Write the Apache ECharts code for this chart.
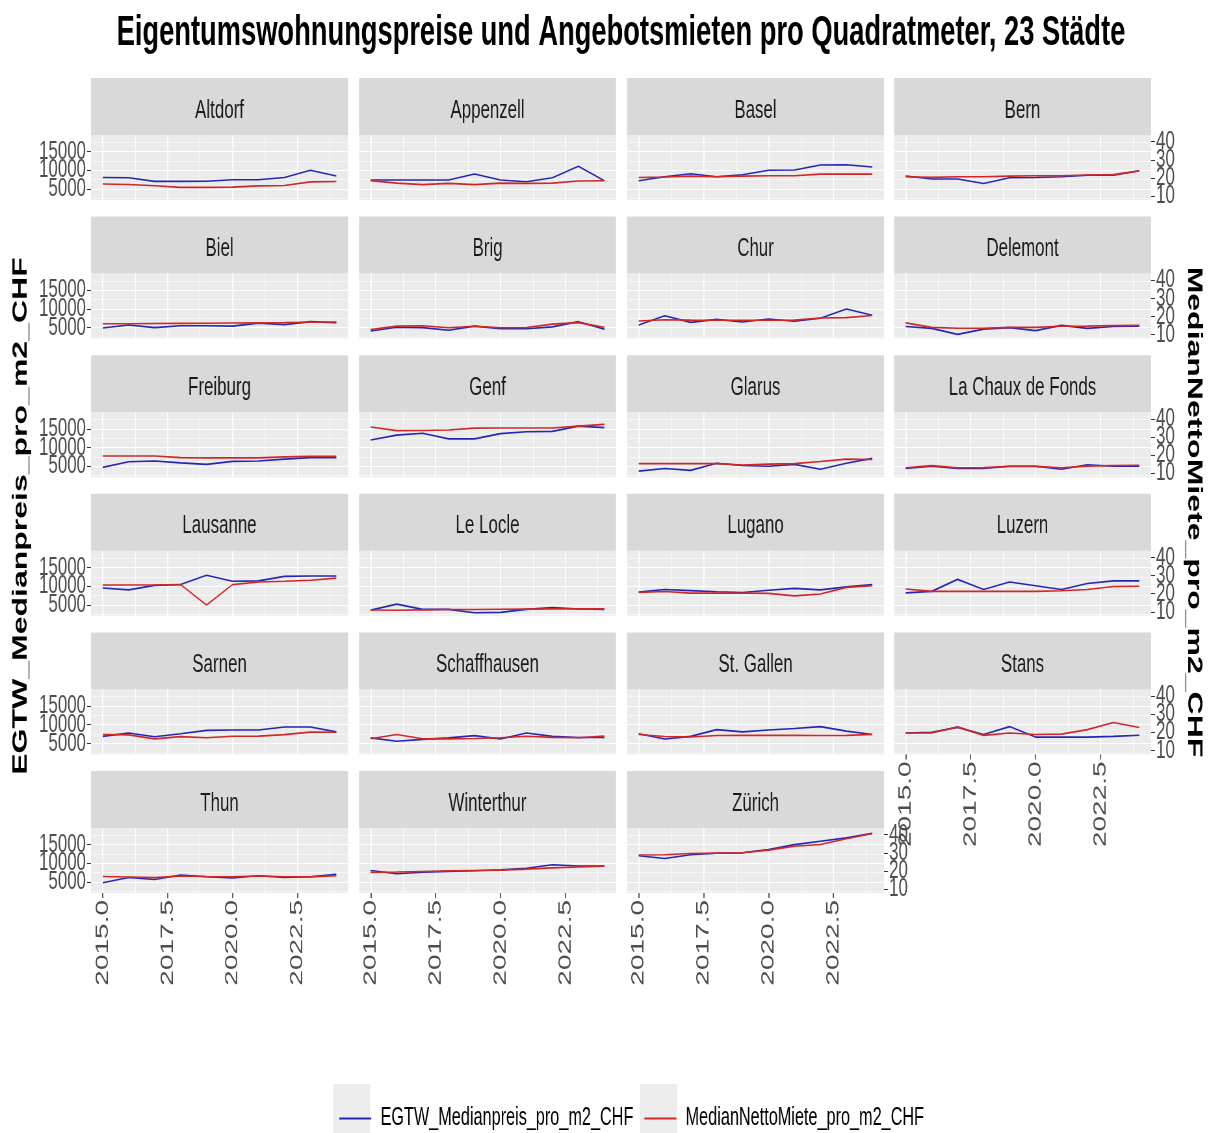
<!DOCTYPE html>
<html>
<head>
<meta charset="utf-8">
<title>Eigentumswohnungspreise und Angebotsmieten</title>
<script src="https://cdn.jsdelivr.net/npm/echarts@6.0.0/dist/echarts.min.js"></script>
<style>
  html, body { margin: 0; padding: 0; background: #fff; overflow: hidden; }
  /* the reference image is squeezed horizontally, so draw wide and squeeze */
  #main { width: 1868px; height: 1133px; transform: scaleX(0.65); transform-origin: 0 0; }
</style>
</head>
<body>
<div id="main"></div>
<script>
const SX = 0.65;
const px = x => x / SX;   // target pixel -> unsqueezed coordinate

const jahre = [2015, 2016, 2017, 2018, 2019, 2020, 2021, 2022, 2023, 2024];

const staedte = ['Altdorf', 'Appenzell', 'Basel', 'Bern', 'Biel', 'Brig', 'Chur', 'Delemont',
  'Freiburg', 'Genf', 'Glarus', 'La Chaux de Fonds', 'Lausanne', 'Le Locle', 'Lugano', 'Luzern',
  'Sarnen', 'Schaffhausen', 'St. Gallen', 'Stans', 'Thun', 'Winterthur', 'Zürich'];

// EGTW_Medianpreis_pro_m2_CHF, one row per city
const egtwPreis = [
  [8100, 8000, 7050, 7050, 7100, 7500, 7500, 8100, 10000, 8500],
  [7400, 7400, 7400, 7400, 9000, 7400, 6950, 8000, 11100, 7200],
  [7200, 8300, 9100, 8300, 8800, 10000, 10100, 11400, 11500, 10900],
  [8500, 7700, 7700, 6500, 8000, 8100, 8300, 8700, 8700, 9900],
  [4900, 5700, 5000, 5500, 5500, 5400, 6200, 5800, 6600, 6300],
  [4100, 5100, 5000, 4300, 5400, 4700, 4700, 5200, 6600, 4600],
  [5700, 8200, 6400, 7200, 6500, 7300, 6700, 7500, 10000, 8300],
  [5300, 4800, 3200, 4600, 5000, 4200, 5600, 4800, 5300, 5400],
  [4700, 6200, 6400, 5900, 5500, 6300, 6400, 6900, 7300, 7300],
  [12000, 13300, 13800, 12300, 12300, 13700, 14200, 14300, 15700, 15300],
  [3700, 4400, 3900, 5800, 5200, 5000, 5500, 4200, 5800, 7100],
  [4400, 5000, 4400, 4400, 5000, 5000, 4200, 5400, 5000, 5000],
  [9500, 9000, 10200, 10450, 12900, 11300, 11400, 12600, 12700, 12700],
  [3600, 5200, 3800, 3800, 2900, 3000, 3800, 4300, 3900, 3800],
  [8400, 9100, 8800, 8500, 8300, 8900, 9400, 9000, 9800, 10400],
  [8200, 8600, 11800, 9100, 11100, 10100, 9100, 10700, 11400, 11400],
  [6900, 7800, 6800, 7600, 8500, 8600, 8600, 9400, 9400, 8100],
  [6500, 5600, 6100, 6500, 7100, 6200, 7800, 6900, 6600, 6600],
  [7600, 6200, 6900, 8700, 8100, 8600, 9000, 9500, 8300, 7400],
  [7800, 8000, 9300, 7400, 9500, 6700, 6700, 6700, 6900, 7200],
  [4800, 6200, 5700, 6900, 6400, 6100, 6700, 6200, 6400, 7100],
  [8100, 7200, 7600, 7800, 8000, 8300, 8700, 9600, 9300, 9300],
  [12000, 11300, 12300, 12700, 12800, 13700, 15000, 15900, 16800, 18000]
];

// MedianNettoMiete_pro_m2_CHF, one row per city
const nettoMiete = [
  [16.6, 16.4, 15.7, 14.8, 14.8, 14.9, 15.6, 15.8, 17.8, 18.0],
  [18.5, 17.1, 16.3, 17.0, 16.3, 17.1, 17.0, 17.1, 18.3, 18.4],
  [20.2, 20.5, 21.0, 20.6, 21.0, 21.2, 21.2, 22.1, 22.1, 22.1],
  [20.6, 20.3, 20.6, 20.6, 21.0, 21.2, 21.2, 21.6, 21.8, 23.9],
  [16.0, 16.0, 16.1, 16.2, 16.3, 16.4, 16.5, 16.6, 16.8, 17.0],
  [12.8, 14.7, 14.9, 13.8, 14.6, 13.8, 13.9, 15.8, 16.6, 14.1],
  [17.5, 18.2, 18.0, 17.9, 17.9, 17.9, 18.0, 19.2, 19.4, 20.6],
  [16.5, 14.0, 13.5, 13.5, 14.0, 14.0, 14.6, 14.7, 15.0, 15.1],
  [19.5, 19.5, 19.5, 18.6, 18.5, 18.5, 18.5, 19.0, 19.3, 19.3],
  [35.5, 33.5, 33.6, 33.9, 34.9, 35.0, 35.0, 35.0, 36.0, 37.0],
  [15.3, 15.3, 15.3, 15.3, 14.5, 15.0, 15.3, 16.5, 17.8, 17.6],
  [13.0, 14.2, 13.0, 13.1, 13.8, 13.8, 13.0, 13.9, 14.3, 14.4],
  [24.8, 24.8, 24.8, 25.0, 13.8, 25.0, 26.5, 26.9, 27.4, 28.6],
  [11.0, 10.9, 11.1, 11.3, 11.3, 11.4, 11.5, 11.6, 11.6, 11.6],
  [20.7, 21.2, 20.3, 20.3, 20.4, 20.2, 18.8, 19.8, 23.5, 24.4],
  [22.6, 21.3, 21.3, 21.3, 21.3, 21.3, 21.6, 22.3, 24.0, 24.1],
  [18.8, 18.6, 16.4, 17.6, 17.0, 17.8, 17.9, 18.7, 20.1, 20.0],
  [16.4, 18.8, 16.4, 16.4, 16.6, 17.0, 17.8, 17.2, 17.0, 17.9],
  [18.8, 17.7, 17.4, 18.2, 18.3, 18.3, 18.3, 18.2, 18.3, 18.8],
  [19.6, 19.6, 23.0, 18.3, 19.6, 18.8, 19.0, 21.5, 25.4, 22.7],
  [16.9, 16.6, 16.3, 17.2, 16.9, 16.8, 17.2, 16.8, 16.7, 17.3],
  [19.2, 19.4, 19.7, 20.0, 20.2, 20.4, 21.0, 21.7, 22.2, 22.6],
  [28.8, 28.9, 29.6, 29.8, 30.0, 31.5, 33.6, 34.6, 37.8, 40.7]
];

const xTicks = [2015, 2017.5, 2020, 2022.5];
const xMinor = [2016.25, 2018.75, 2021.25, 2023.75];
// tick labels overlap in the original; split them over two axes so none get dropped
const preisTicksA = [5000, 15000];
const preisTicksB = [10000];
const preisMinor = [2500, 7500, 12500, 17500];
const mieteTicksA = [10, 30];
const mieteTicksB = [20, 40];

const nameEgtw = 'EGTW_Medianpreis_pro_m2_CHF';
const nameMiete = 'MedianNettoMiete_pro_m2_CHF';
const blau = '#2626B4';
const rot = '#D02828';
const font = 'Liberation Sans';

// panel layout (target pixels)
const colLeft = [91, 359, 627, 894];
const panelW = 257, stripH = 57, panelH = 65, rowStep = 138.6, firstRow = 78;
const preisRange = [2080, 19425], mieteRange = [7.8, 43.7];

const grids = [], xAxes = [], yAxes = [], series = [], graphics = [];

const labelBase = {
  fontSize: 26, fontFamily: font, color: '#4D4D4D',
  hideOverlap: false, showMinLabel: true, showMaxLabel: true,
  formatter: v => String(v)
};

function yAchse(i, pos, range, ticks, zeigen, split) {
  return {
    type: 'value', gridIndex: i, position: pos, min: range[0], max: range[1],
    axisLine: { show: false },
    axisTick: { show: zeigen, customValues: ticks, length: px(4), lineStyle: { color: '#333' } },
    axisLabel: Object.assign({}, labelBase, { show: zeigen, customValues: ticks, margin: px(5) }),
    splitLine: split ? { show: true, lineStyle: { color: '#fff', width: split } } : { show: false }
  };
}

staedte.forEach((stadt, i) => {
  const col = i % 4, row = Math.floor(i / 4);
  const top = firstRow + row * rowStep;
  const unten = i >= staedte.length - 4;
  const links = col === 0;
  const rechts = col === 3 || i === staedte.length - 1;

  grids.push({
    left: px(colLeft[col]), top: top + stripH, width: px(panelW), height: panelH,
    show: true, backgroundColor: '#EBEBEB', borderWidth: 0
  });

  graphics.push({
    type: 'rect', silent: true,
    shape: { x: px(colLeft[col]), y: top, width: px(panelW), height: stripH },
    style: { fill: '#D9D9D9' }
  });
  graphics.push({
    type: 'text', silent: true,
    x: px(colLeft[col] + panelW / 2), y: top + stripH / 2 + 4,
    style: { text: stadt, fontSize: 26, fontFamily: font, fill: '#1A1A1A',
             textAlign: 'center', textVerticalAlign: 'middle' }
  });

  // major x
  xAxes.push({
    type: 'value', gridIndex: i, min: 2014.55, max: 2024.45,
    axisLine: { show: false },
    axisTick: { show: unten, customValues: xTicks, length: 5, lineStyle: { color: '#333', width: 1.6 } },
    axisLabel: Object.assign({}, labelBase, {
      show: unten, customValues: xTicks, rotate: 90, margin: 7, fontSize: 28,
      formatter: v => v.toFixed(1) }),
    splitLine: { show: true, lineStyle: { color: '#fff', width: 1.7 } }
  });
  // minor x
  xAxes.push({
    type: 'value', gridIndex: i, min: 2014.55, max: 2024.45,
    axisLine: { show: false },
    axisTick: { show: false, customValues: xMinor },
    axisLabel: { show: false },
    splitLine: { show: true, lineStyle: { color: '#fff', width: 0.9 } }
  });

  yAxes.push(yAchse(i, 'left', preisRange, preisTicksA, links, 1.1));   // 5i
  yAxes.push(yAchse(i, 'left', preisRange, preisTicksB, links, 1.1));   // 5i+1
  yAxes.push(yAchse(i, 'left', preisRange, preisMinor, false, 0.6));    // 5i+2
  yAxes.push(yAchse(i, 'right', mieteRange, mieteTicksA, rechts, 0));   // 5i+3
  yAxes.push(yAchse(i, 'right', mieteRange, mieteTicksB, rechts, 0));   // 5i+4

  series.push({
    name: nameEgtw, type: 'line', xAxisIndex: 2 * i, yAxisIndex: 5 * i,
    data: jahre.map((j, k) => [j, egtwPreis[i][k]]),
    symbol: 'none', lineStyle: { color: blau, width: 1.6 }, itemStyle: { color: blau },
    emphasis: { disabled: true }
  });
  series.push({
    name: nameMiete, type: 'line', xAxisIndex: 2 * i, yAxisIndex: 5 * i + 3,
    data: jahre.map((j, k) => [j, nettoMiete[i][k]]),
    symbol: 'none', lineStyle: { color: rot, width: 1.6 }, itemStyle: { color: rot },
    emphasis: { disabled: true }
  });
});

// title and outer axis titles
graphics.push({
  type: 'text', silent: true, x: px(621), y: 33,
  style: { text: 'Eigentumswohnungspreise und Angebotsmieten pro Quadratmeter, 23 Städte',
           fontSize: 42, fontWeight: 'bold', fontFamily: font, fill: '#000',
           textAlign: 'center', textVerticalAlign: 'middle' }
});
graphics.push({
  type: 'text', silent: true, x: px(21), y: 516, rotation: Math.PI / 2,
  style: { text: nameEgtw, fontSize: 32, fontWeight: 'bold', fontFamily: font, fill: '#000',
           textAlign: 'center', textVerticalAlign: 'middle' }
});
graphics.push({
  type: 'text', silent: true, x: px(1194), y: 512, rotation: -Math.PI / 2,
  style: { text: nameMiete, fontSize: 32, fontWeight: 'bold', fontFamily: font, fill: '#000',
           textAlign: 'center', textVerticalAlign: 'middle' }
});
// legend key backgrounds
[333, 640].forEach(x => graphics.push({
  type: 'rect', silent: true, z: -1,
  shape: { x: px(x), y: 1084, width: px(37), height: 60 },
  style: { fill: '#EDEDED' }
}));

let myChart = echarts.init(document.getElementById('main'));
myChart.setOption({
  animation: false,
  grid: grids,
  xAxis: xAxes,
  yAxis: yAxes,
  series: series,
  graphic: graphics,
  legend: {
    data: [nameEgtw, nameMiete],
    icon: 'rect',
    left: px(336), top: 1101,
    itemWidth: px(32), itemHeight: 2, itemGap: px(11),
    textStyle: { fontSize: 25, fontFamily: font, color: '#000', padding: [0, 0, 0, px(6)] }
  }
});
</script>
</body>
</html>
